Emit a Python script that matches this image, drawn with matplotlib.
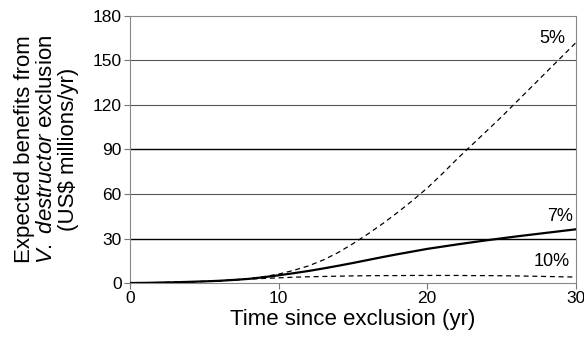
import numpy as np
import matplotlib
matplotlib.use("Agg")
import matplotlib.pyplot as plt

plt.rcParams["font.family"] = ["Liberation Sans", "DejaVu Sans"]
plt.rcParams["mathtext.fontset"] = "custom"
plt.rcParams["mathtext.it"] = "Liberation Sans:italic"
plt.rcParams["mathtext.rm"] = "Liberation Sans"

# years since exclusion
years = list(range(0, 31))
# expected benefits (US$ millions/yr) by discount rate
rate5 = [0, 0.1, 0.3, 0.5, 0.8, 1.1, 1.5, 2.1, 3, 4.3, 6, 8.5, 11.5, 15.5, 20.5, 26.5,
         33, 40, 47.5, 55.5, 64, 73.5, 83.5, 93, 102.5, 112, 122, 132, 142, 152, 162]
rate7 = [0, 0.1, 0.3, 0.5, 0.8, 1.1, 1.5, 2.1, 2.8, 3.9, 5.2, 6.6, 8.1, 9.8, 11.6, 13.5,
         15.5, 17.5, 19.4, 21.2, 23, 24.5, 26, 27.4, 28.8, 30.1, 31.4, 32.6, 33.8, 35, 36.2]
rate10 = [0, 0.1, 0.3, 0.5, 0.8, 1.1, 1.5, 2, 2.6, 3.1, 3.5, 3.9, 4.2, 4.4, 4.6, 4.8,
          4.9, 5, 5, 5.1, 5.1, 5.1, 5.1, 5, 5, 4.9, 4.8, 4.6, 4.4, 4.2, 4]

fig = plt.figure(figsize=(5.84, 3.4), dpi=100)
ax = fig.add_axes([0.2226, 0.1676, 0.7634, 0.7854])

for y, c, lw in [(30, "black", 1.0), (60, "#555555", 0.8), (90, "black", 1.0),
                 (120, "#555555", 0.8), (150, "#555555", 0.8)]:
    ax.axhline(y, color=c, lw=lw, zorder=1)

ax.plot(years, rate5, color="black", lw=0.9, ls=(0, (4, 3)), zorder=3)
ax.plot(years, rate7, color="black", lw=1.6, zorder=3)
ax.plot(years, rate10, color="black", lw=0.9, ls=(0, (4, 3)), zorder=3)

ax.text(29.3, 159, "5%", ha="right", va="bottom", fontsize=13)
ax.text(29.8, 39, "7%", ha="right", va="bottom", fontsize=13)
ax.text(29.6, 9, "10%", ha="right", va="bottom", fontsize=13)

ax.set_xlim(0, 30)
ax.set_ylim(0, 180)
ax.set_xticks([0, 10, 20, 30])
ax.set_yticks([0, 30, 60, 90, 120, 150, 180])
ax.tick_params(labelsize=12.5, length=4, color="#777777", width=0.8, pad=2)
for s in ax.spines.values():
    s.set_color("#888888")
    s.set_linewidth(0.8)

ax.set_xlabel("Time since exclusion (yr)", fontsize=16, labelpad=2)
ax.set_ylabel("Expected benefits from\n" + r"$\it{V.}$ $\it{destructor}$ exclusion" +
              "\n(US$ millions/yr)", fontsize=16, linespacing=1.05, labelpad=10)

fig.savefig("out.png", dpi=100)
